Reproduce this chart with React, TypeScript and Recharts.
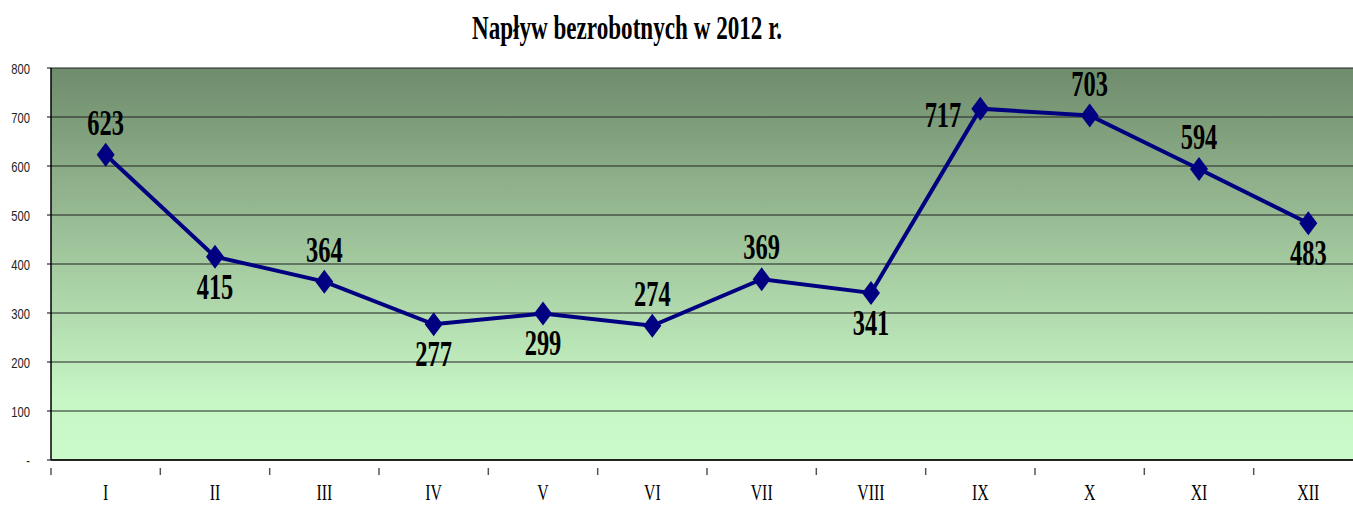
import React from 'react';
import { LineChart, Line, XAxis, YAxis, CartesianGrid, LabelList } from 'recharts';

// months and inflow of unemployed, 2012
const months = ['I', 'II', 'III', 'IV', 'V', 'VI', 'VII', 'VIII', 'IX', 'X', 'XI', 'XII'];
const inflow = [623, 415, 364, 277, 299, 274, 369, 341, 717, 703, 594, 483];
const yTicks = [0, 100, 200, 300, 400, 500, 600, 700, 800];
const labelSide = ['top', 'bottom', 'top', 'bottom', 'bottom', 'top', 'top', 'bottom', 'left', 'top', 'top', 'bottom'];

const data = months.map((m, i) => ({ month: m, value: inflow[i] }));

const CHART_W = 1370;
const CHART_H = 506;
const Y_W = 51;
const M_RIGHT = 7;
const BAND = (CHART_W - Y_W - M_RIGHT) / months.length;
const NAVY = '#000080';
const SERIF = '"Liberation Serif", "Times New Roman", serif';

const XTick = (props: any) => {
  const { x, y, payload } = props;
  return (
    <g>
      <line x1={x - BAND / 2} x2={x - BAND / 2} y1={y} y2={y + 7} stroke="#555" strokeWidth={1.5} />
      <text
        transform={`translate(${x},${500}) scale(0.66,1)`}
        textAnchor="middle"
        fontFamily={SERIF}
        fontSize={24}
        fill="#000"
      >
        {payload.value}
      </text>
    </g>
  );
};

const YTick = (props: any) => {
  const { y, payload } = props;
  return (
    <g>
      <line x1={47} x2={51} y1={y} y2={y} stroke="#000" />
      <text
        transform={`translate(30,${y + 6}) scale(0.8,1)`}
        textAnchor="end"
        fontFamily='"Liberation Sans", Arial, sans-serif'
        fontSize={14}
        fill="#222"
      >
        {payload.value === 0 ? '-' : payload.value}
      </text>
    </g>
  );
};

const Diamond = (props: any) => {
  const { cx, cy } = props;
  if (cx == null || cy == null) return null;
  return <polygon points={`${cx},${cy - 12} ${cx + 9},${cy} ${cx},${cy + 12} ${cx - 9},${cy}`} fill={NAVY} />;
};

const ValueLabel = (props: any) => {
  const { x, y, value, index } = props;
  const side = labelSide[index];
  let tx = x;
  let ty = y - 20;
  let anchor = 'middle';
  if (side === 'bottom') ty = y + 42;
  if (side === 'left') {
    tx = x - 19;
    ty = y + 18;
    anchor = 'end';
  }
  return (
    <text
      transform={`translate(${tx},${ty}) scale(0.68,1)`}
      textAnchor={anchor}
      fontFamily={SERIF}
      fontWeight="bold"
      fontSize={36}
      fill="#000"
    >
      {value}
    </text>
  );
};

export default function App() {
  return (
    <div style={{ position: 'absolute', left: 0, top: 0, width: 1353, height: CHART_H, overflow: 'hidden', background: '#fff' }}>
      <svg width={1353} height={60} style={{ position: 'absolute', left: 0, top: 0 }}>
        <text
          transform="translate(627,39) scale(0.68,1)"
          textAnchor="middle"
          fontFamily={SERIF}
          fontWeight="bold"
          fontSize={34}
          fill="#000"
        >
          Napływ bezrobotnych w 2012 r.
        </text>
      </svg>
      <LineChart width={CHART_W} height={CHART_H} data={data} margin={{ top: 68, right: M_RIGHT, bottom: 0, left: 0 }}>
        <defs>
          <linearGradient id="bg" x1="0" y1="0" x2="0" y2="1">
            <stop offset="0%" stopColor="#6f8c6c" />
            <stop offset="50%" stopColor="#a4caa0" />
            <stop offset="85%" stopColor="#c8f7c6" />
            <stop offset="100%" stopColor="#cbfbcb" />
          </linearGradient>
        </defs>
        <CartesianGrid vertical={false} stroke="#222" fill="url(#bg)" fillOpacity={1} />
        <XAxis
          dataKey="month"
          scale="band"
          height={46}
          tickLine={false}
          axisLine={{ stroke: '#000', strokeWidth: 1.5 }}
          tick={<XTick />}
          interval={0}
        />
        <YAxis
          width={Y_W}
          domain={[0, 800]}
          ticks={yTicks}
          tickLine={false}
          axisLine={{ stroke: '#000', strokeWidth: 1.5 }}
          tick={<YTick />}
          interval={0}
        />
        <Line
          dataKey="value"
          stroke={NAVY}
          strokeWidth={4}
          dot={<Diamond />}
          activeDot={false}
          isAnimationActive={false}
        >
          <LabelList dataKey="value" content={<ValueLabel />} />
        </Line>
      </LineChart>
    </div>
  );
}
